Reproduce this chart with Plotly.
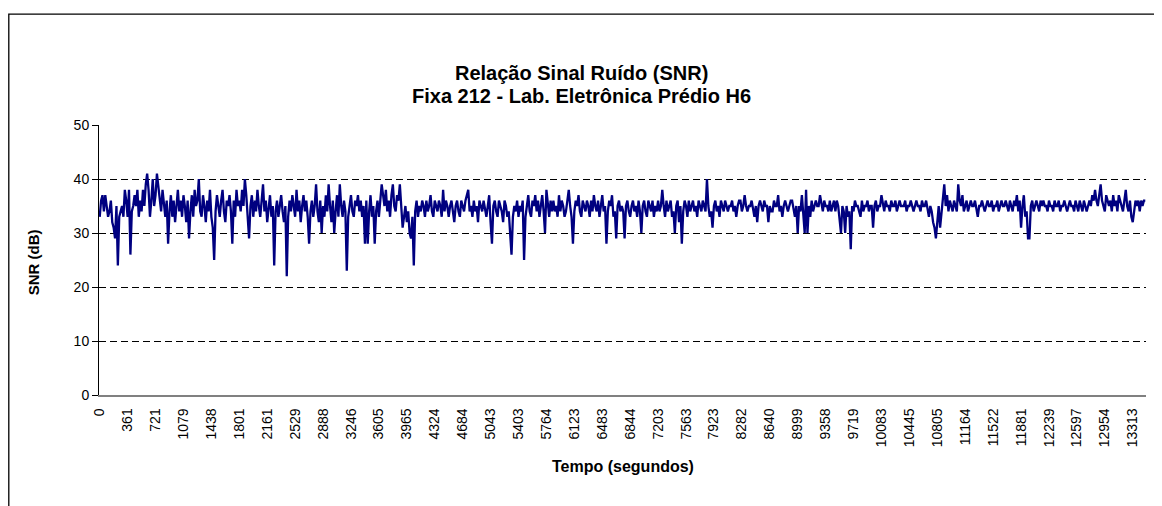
import plotly.graph_objects as go

OFF = 8  # page body margin
W, H = 1162 - OFF, 506 - OFF
# plot area in reference-page pixels
PL, PR, PT, PB = 99 - OFF, 1146 - OFF, 124.5 - OFF, 395 - OFF

tick_labels = ["0", "361", "721", "1079", "1438", "1801", "2161", "2529", "2888", "3246",
               "3605", "3965", "4324", "4684", "5043", "5403", "5764", "6123", "6483", "6844",
               "7203", "7563", "7923", "8282", "8640", "8999", "9358", "9719", "10083", "10445",
               "10805", "11164", "11522", "11881", "12239", "12597", "12954", "13313"]
points_per_label = 20

snr_rows = [
    "33 36 37 34 37 35 33 34 36 32 31 29 35 24 33 34 35 33 38 36 33 38 26 34 35",
    "37 35 38 33 36 34 38 35 39 41 38 33 36 40 35 37 41 39 36 34 38 35 33 36 28",
    "34 37 33 36 32 35 38 34 36 33 37 35 32 36 29 34 37 33 38 35 36 40 34 33 37",
    "35 32 36 34 38 33 31 25 34 37 35 33 36 38 34 32 36 35 37 34 28 36 33 38 35",
    "36 34 38 35 40 37 33 29 35 37 33 36 34 38 35 33 36 39 34 36 32 35 37 33 35",
    "24 34 36 33 35 37 34 32 35 22 33 36 34 37 35 33 38 34 36 32 35 37 34 36 33",
    "28 34 36 33 35 39 34 32 36 30 35 33 37 34 39 35 32 36 30 34 37 33 39 35 33",
    "36 34 23 33 35 37 34 33 36 35 37 34 36 33 35 28 36 28 34 37 33 35 28 34 36",
    "33 36 39 37 35 38 34 36 33 37 39 35 34 37 36 39 34 31 33 35 32 34 30 29 33",
    "24 34 36 33 35 34 36 35 33 36 34 35 37 34 33 36 35 34 36 35 33 38 34 36 35",
    "33 35 36 34 32 35 36 34 33 36 35 34 36 37 38 34 35 33 36 34 35 32 36 35 34",
    "36 34 33 35 37 32 28 35 36 34 33 36 35 34 32 36 35 33 34 29 26 33 35 34 36",
    "33 35 34 36 25 33 35 37 34 33 36 35 37 34 36 33 35 37 34 30 38 35 33 36 34",
    "36 34 35 33 37 34 36 35 33 34 36 38 35 33 28 34 36 35 37 34 33 36 35 34 36",
    "35 33 36 34 37 35 34 36 33 35 37 34 35 28 34 36 35 37 33 34 29 35 36 34 35",
    "34 29 35 36 34 33 35 36 34 35 33 36 34 30 35 36 34 33 36 35 34 36 33 35 34",
    "36 34 35 38 35 33 36 34 35 36 33 34 30 35 36 32 35 28 34 36 35 33 36 34 35",
    "36 34 35 33 36 35 34 36 35 34 40 35 33 34 31 35 36 34 35 33 36 35 34 36 35",
    "34 35 35 36 34 35 33 35 36 36 34 35 37 35 34 35 35 36 34 33 35 32 35 36 35",
    "34 36 35 35 32 35 34 34 36 35 35 37 34 35 33 35 36 35 34 35 36 36 34 33 35",
    "30 35 34 37 33 30 38 30 35 33 36 34 35 36 35 35 37 35 34 36 35 35 34 36 34",
    "35 36 34 36 35 33 30 35 34 30 35 33 34 27 35 34 36 35 35 34 33 36 34 35 35",
    "36 34 35 35 31 35 36 34 35 35 37 35 34 36 35 35 34 36 35 35 36 34 35 36 35",
    "35 35 36 34 35 35 36 35 34 35 36 35 35 34 36 35 35 36 34 33 35 34 32 31 29",
    "33 35 31 34 36 39 35 37 34 36 35 34 36 35 34 39 36 35 37 34 35 36 34 35 36",
    "35 35 36 34 33 35 35 36 35 34 35 36 35 35 36 34 35 35 36 34 35 36 35 35 36",
    "35 34 36 35 34 36 35 37 34 36 31 35 37 33 34 29 29 35 36 34 35 36 35 34 36",
    "35 36 35 35 34 36 35 35 34 36 35 35 36 34 35 35 36 35 34 35 36 35 35 34 36",
    "35 34 36 35 34 36 35 34 35 36 35 37 36 38 36 35 37 39 36 35 34 37 36 35 36",
    "34 37 35 36 34 37 36 35 34 36 38 35 34 36 33 32 34 36 35 36 34 36 35 36 36",
]
snr = [int(v) for row in snr_rows for v in row.split()]
idx = list(range(len(snr)))
tick_vals = [i * points_per_label for i in range(len(tick_labels))]

title_lines = ["Relação Sinal Ruído (SNR)", "Fixa 212 - Lab. Eletrônica Prédio H6"]

FONT = "Arial, 'Liberation Sans', sans-serif"

def px_x(p):
    return (p - OFF - PL) / (PR - PL)

def px_y(p):
    return (PB - (p - OFF)) / (PB - PT)

fig = go.Figure()
fig.add_trace(go.Scatter(x=idx, y=snr, mode="lines",
                         line=dict(color="#000080", width=2.3),
                         hoverinfo="x+y", showlegend=False))

fig.update_layout(
    width=W, height=H,
    margin=dict(l=PL, r=W - PR, t=PT, b=H - PB, autoexpand=False),
    paper_bgcolor="white", plot_bgcolor="white",
    font=dict(family=FONT, color="black", size=14),
    xaxis=dict(range=[-0.5, len(snr) - 0.5], tickmode="array", tickvals=tick_vals,
               ticktext=tick_labels, tickangle=-90, showgrid=False, zeroline=False,
               showline=True, linecolor="#808080", linewidth=1.5, ticks="",
               ticklabelstandoff=6, automargin=False,
               tickfont=dict(size=14, family=FONT)),
    yaxis=dict(range=[0, 50], tick0=0, dtick=10, showgrid=True, gridcolor="black",
               griddash="7px,4px", gridwidth=1, zeroline=False, showline=True,
               linecolor="black", linewidth=1, ticks="outside", ticklen=6, tickcolor="black",
               automargin=False,
               tickfont=dict(size=14, family=FONT)),
)

# Title lines
for text, ypix in zip(title_lines, [72, 95]):
    fig.add_annotation(text=f"<b>{text}</b>", xref="paper", yref="paper",
                       x=px_x(581), y=px_y(ypix), xanchor="center", yanchor="middle",
                       showarrow=False, font=dict(size=20, family=FONT, color="black"))

# Axis titles
fig.add_annotation(text="<b>Tempo (segundos)</b>", xref="paper", yref="paper",
                   x=px_x(622.5), y=px_y(467), xanchor="center", yanchor="middle",
                   showarrow=False, font=dict(size=16, family=FONT, color="black"))
fig.add_annotation(text="<b>SNR (dB)</b>", xref="paper", yref="paper",
                   x=px_x(33), y=px_y(262), xanchor="center", yanchor="middle", textangle=-90,
                   showarrow=False, font=dict(size=15, family=FONT, color="black"))

fig.add_shape(type="rect", xref="paper", yref="paper",
              x0=px_x(8.8), x1=px_x(1190), y0=px_y(540), y1=px_y(13.5),
              line=dict(color="black", width=1.3), fillcolor="rgba(0,0,0,0)", layer="above")

fig.write_html("out.html")
